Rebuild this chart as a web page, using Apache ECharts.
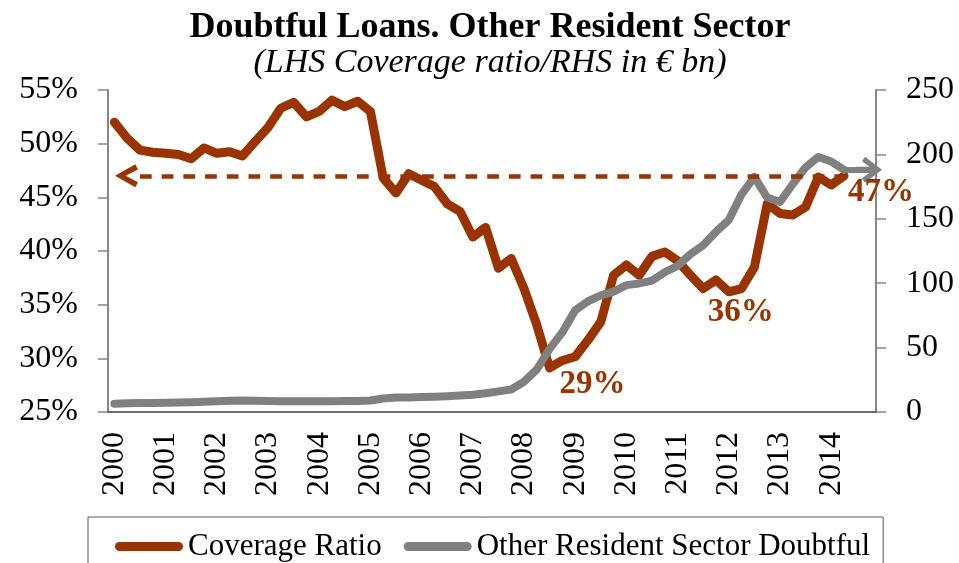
<!DOCTYPE html>
<html>
<head>
<meta charset="utf-8">
<title>Doubtful Loans. Other Resident Sector</title>
<script src="https://cdn.jsdelivr.net/npm/echarts@6/dist/echarts.min.js"></script>
<style>
  html, body { margin: 0; padding: 0; background: #ffffff; }
  #chart { width: 959px; height: 563px; }
</style>
</head>
<body>
<div id="chart"></div>
<script>
// Quarterly observations, 2000 Q1 – 2014 Q2 (axis runs to 2014 Q4)
const years = [2000, 2001, 2002, 2003, 2004, 2005, 2006, 2007, 2008, 2009, 2010, 2011, 2012, 2013, 2014];
const quarters = [];
years.forEach(function (y) {
  for (let q = 1; q <= 4; q++) quarters.push(y + ' Q' + q);
});

// Coverage ratio of doubtful loans, % (left axis)
const coverageRatio = [
  52.0, 50.5, 49.4, 49.2, 49.1, 49.0, 48.6, 49.6, 49.1, 49.25,
  48.85, 50.2, 51.5, 53.3, 53.85, 52.5, 53.0, 54.05, 53.45, 53.95,
  53.0, 46.8, 45.4, 47.2, 46.6, 46.0, 44.4, 43.7, 41.3, 42.2,
  38.4, 39.3, 36.5, 33.1, 29.1, 29.8, 30.15, 31.7, 33.4, 37.75,
  38.7, 37.75, 39.5, 39.9, 39.1, 37.75, 36.5, 37.3, 36.2, 36.5,
  38.5, 44.4, 43.5, 43.35, 44.1, 46.9, 46.15, 47.0
];

// Other resident sector doubtful loans, EUR bn (right axis)
const doubtfulBn = [
  6.5, 6.8, 7.0, 7.0, 7.1, 7.3, 7.6, 7.9, 8.3, 8.8,
  9.0, 8.7, 8.5, 8.4, 8.3, 8.3, 8.4, 8.4, 8.5, 8.6,
  8.9, 10.5, 11.2, 11.3, 11.6, 11.9, 12.3, 12.8, 13.4, 14.5,
  16.0, 17.5, 23.5, 33.0, 49.0, 62.0, 79.0, 86.0, 90.5, 93.5,
  98.5, 99.8, 102.0, 108.5, 113.5, 122.5, 129.5, 140.0, 149.0, 169.0,
  182.5, 166.5, 163.0, 177.0, 190.0, 198.0, 194.5, 188.0
];

// Quarters whose coverage ratio is called out on the chart
const calloutIdx = [34, 48, 57];
const calloutOffsets = [[43, 16], [12, 21], [37, 17]];

const RUST = '#993300';
const GREY = '#808080';
const FONT = '"Liberation Serif", "Times New Roman", serif';

// Open chevron pointing "up" (ECharts turns it along the line)
const CHEVRON = 'path://M11,0 L22,19 L17,21.5 L11,10 L5,21.5 L0,19 Z';
// Chevron with a short stem, used for the grey arrow head
const CHEVRON_STEM = 'path://M13,0 L26,17 L21.5,20 L16,12.5 L16,26 L10,26 L10,12.5 L4.5,20 L0,17 Z';

const lastCov = coverageRatio[coverageRatio.length - 1];
const lastBn = doubtfulBn[doubtfulBn.length - 1];
const lastIdx = coverageRatio.length - 1;

const chart = echarts.init(document.getElementById('chart'), null, { renderer: 'canvas' });

chart.setOption({
  animation: false,
  backgroundColor: '#ffffff',
  title: {
    text: 'Doubtful Loans. Other Resident Sector',
    subtext: '(LHS Coverage ratio/RHS in € bn)',
    left: 490,
    top: 6,
    textAlign: 'center',
    itemGap: 0,
    padding: [4, 0, 0, 0],
    textStyle: { fontFamily: FONT, fontWeight: 'bold', fontSize: 36, color: '#000000' },
    subtextStyle: { fontFamily: FONT, fontStyle: 'italic', fontSize: 34, color: '#000000' }
  },
  legend: {
    left: 88,
    top: 517,
    padding: [14, 13, 40, 27],
    borderColor: '#595959',
    borderWidth: 1,
    itemWidth: 68,
    itemHeight: 9,
    itemGap: 22,
    icon: 'path://M4.5,0 H63.5 A4.5,4.5 0 0 1 63.5,9 H4.5 A4.5,4.5 0 0 1 4.5,0 Z',
    textStyle: { fontFamily: FONT, fontSize: 31, color: '#000000' },
    data: ['Coverage Ratio', 'Other Resident Sector Doubtful']
  },
  grid: { left: 108, right: 83, top: 90, bottom: 151 },
  xAxis: {
    type: 'category',
    data: quarters,
    boundaryGap: true,
    axisLine: { lineStyle: { color: '#404040', width: 1.5 } },
    axisTick: { interval: 3, length: 10, lineStyle: { color: '#404040', width: 1.2 } },
    axisLabel: {
      interval: 3,
      rotate: 90,
      margin: 20,
      fontFamily: FONT,
      fontSize: 32,
      color: '#000000',
      formatter: function (v) { return v.slice(0, 4); }
    },
    splitLine: { show: false }
  },
  yAxis: [
    {
      type: 'value',
      position: 'left',
      min: 25,
      max: 55,
      interval: 5,
      splitLine: { show: false },
      axisLine: { show: true, lineStyle: { color: '#868686', width: 2 } },
      axisTick: { show: true, length: 10, lineStyle: { color: '#868686', width: 1.5 } },
      axisLabel: { formatter: '{value}%', margin: 30, fontFamily: FONT, fontSize: 32, color: '#000000' }
    },
    {
      type: 'value',
      position: 'right',
      min: 0,
      max: 250,
      interval: 50,
      splitLine: { show: false },
      axisLine: { show: true, lineStyle: { color: '#868686', width: 2 } },
      axisTick: { show: true, length: 10, lineStyle: { color: '#868686', width: 1.5 } },
      axisLabel: { margin: 30, fontFamily: FONT, fontSize: 32, color: '#000000' }
    }
  ],
  series: [
    {
      name: 'Coverage Ratio',
      type: 'line',
      yAxisIndex: 0,
      data: coverageRatio,
      symbol: 'none',
      showSymbol: false,
      lineStyle: { color: RUST, width: 9, cap: 'round', join: 'round' },
      itemStyle: { color: RUST },
      z: 2,
      markLine: {
        silent: true,
        animation: false,
        symbolSize: 23,
        label: { show: false },
        lineStyle: { color: RUST, width: 4.5, type: [11.7, 10], cap: 'butt' },
        emphasis: { disabled: true },
        data: [[
          { xAxis: 1.84, yAxis: lastCov, symbol: CHEVRON, symbolOffset: [0, -13.5] },
          { xAxis: lastIdx, yAxis: lastCov, symbol: 'none' }
        ]]
      },
      markPoint: {
        silent: true,
        animation: false,
        symbol: 'circle',
        symbolSize: 1,
        itemStyle: { color: 'rgba(0,0,0,0)' },
        label: {
          show: true,
          position: 'inside',
          color: RUST,
          fontFamily: FONT,
          fontWeight: 'bold',
          fontSize: 33,
          formatter: function (p) { return Math.round(p.value) + '%'; }
        },
        data: calloutIdx.map(function (i, k) {
          return {
            coord: [i, coverageRatio[i]],
            value: coverageRatio[i],
            label: { offset: calloutOffsets[k] }
          };
        })
      }
    },
    {
      name: 'Other Resident Sector Doubtful',
      type: 'line',
      yAxisIndex: 1,
      data: doubtfulBn,
      symbol: 'none',
      showSymbol: false,
      lineStyle: { color: GREY, width: 8, cap: 'round', join: 'round' },
      itemStyle: { color: GREY },
      z: 3,
      markLine: {
        silent: true,
        animation: false,
        symbolSize: 26,
        label: { show: false },
        lineStyle: { color: GREY, width: 6, type: 'solid' },
        emphasis: { disabled: true },
        data: [[
          { xAxis: lastIdx, yAxis: lastBn, symbol: 'none' },
          { xAxis: quarters.length - 1, yAxis: lastBn, symbol: CHEVRON_STEM, symbolOffset: [0, 0.6] }
        ]]
      }
    }
  ]
});
</script>
</body>
</html>
